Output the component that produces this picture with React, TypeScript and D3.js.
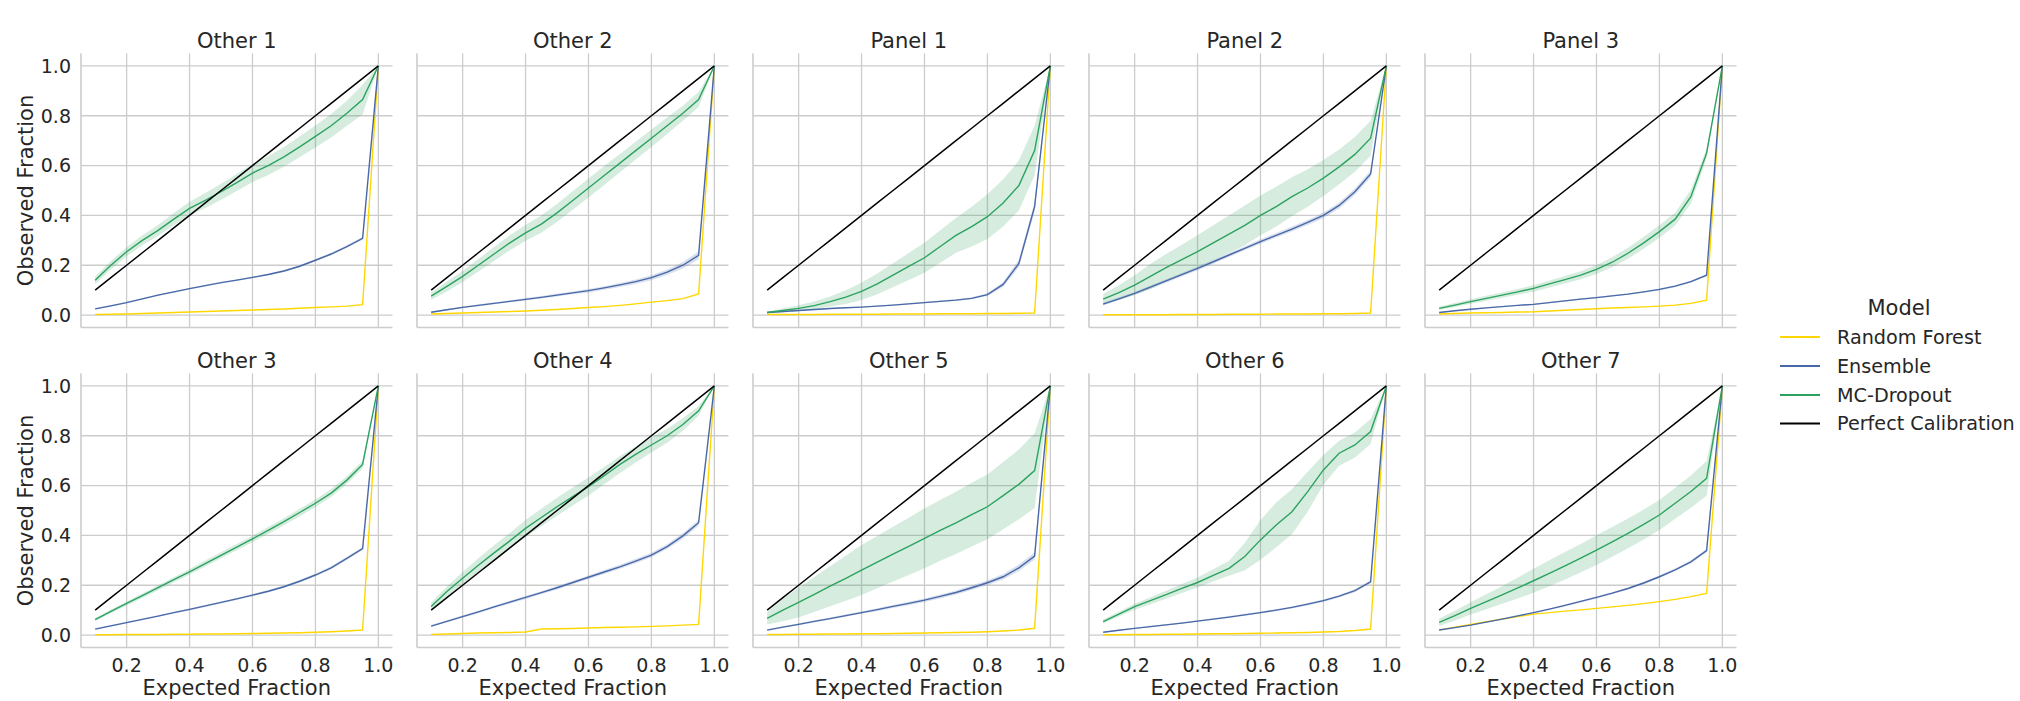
import React from "react";
import * as d3 from "d3";

const panelNames = ["Other 1", "Other 2", "Panel 1", "Panel 2", "Panel 3", "Other 3", "Other 4", "Other 5", "Other 6", "Other 7"];
const expected = [0.1, 0.15, 0.2, 0.25, 0.3, 0.35, 0.4, 0.45, 0.5, 0.55, 0.6, 0.65, 0.7, 0.75, 0.8, 0.85, 0.9, 0.95, 1.0];
const xTicks = [0.2, 0.4, 0.6, 0.8, 1.0];
const yTicks = [0.0, 0.2, 0.4, 0.6, 0.8, 1.0];
const modelNames = ["Random Forest", "Ensemble", "MC-Dropout", "Perfect Calibration"];
const modelColors = ["#FFD700", "#4868A8", "#2CA25F", "#000000"];

const rfObserved = [
  [0.002, 0.003, 0.004, 0.006, 0.008, 0.010, 0.012, 0.014, 0.016, 0.018, 0.020, 0.022, 0.024, 0.027, 0.030, 0.033, 0.036, 0.042, 1.0],
  [0.004, 0.006, 0.008, 0.010, 0.012, 0.014, 0.016, 0.019, 0.022, 0.026, 0.030, 0.034, 0.039, 0.045, 0.052, 0.058, 0.066, 0.085, 1.0],
  [0.002, 0.002, 0.002, 0.002, 0.003, 0.003, 0.003, 0.003, 0.004, 0.004, 0.004, 0.005, 0.005, 0.005, 0.006, 0.006, 0.007, 0.008, 1.0],
  [0.001, 0.001, 0.001, 0.001, 0.001, 0.002, 0.002, 0.002, 0.003, 0.003, 0.003, 0.004, 0.004, 0.004, 0.005, 0.005, 0.006, 0.008, 1.0],
  [0.004, 0.006, 0.008, 0.009, 0.010, 0.012, 0.013, 0.016, 0.019, 0.022, 0.025, 0.028, 0.030, 0.033, 0.036, 0.040, 0.047, 0.060, 1.0],
  [0.001, 0.001, 0.002, 0.002, 0.002, 0.003, 0.003, 0.004, 0.004, 0.005, 0.006, 0.007, 0.008, 0.009, 0.011, 0.013, 0.016, 0.020, 1.0],
  [0.002, 0.004, 0.006, 0.008, 0.009, 0.010, 0.012, 0.024, 0.025, 0.026, 0.028, 0.030, 0.031, 0.033, 0.035, 0.037, 0.040, 0.043, 1.0],
  [0.002, 0.002, 0.003, 0.003, 0.004, 0.004, 0.005, 0.005, 0.006, 0.007, 0.008, 0.009, 0.010, 0.011, 0.013, 0.016, 0.020, 0.027, 1.0],
  [0.001, 0.001, 0.002, 0.002, 0.003, 0.003, 0.004, 0.005, 0.005, 0.006, 0.007, 0.008, 0.009, 0.010, 0.012, 0.014, 0.018, 0.024, 1.0],
  [0.020, 0.032, 0.043, 0.054, 0.064, 0.074, 0.084, 0.090, 0.096, 0.101, 0.107, 0.113, 0.119, 0.126, 0.134, 0.143, 0.154, 0.167, 1.0],
];

const ensObserved = [
  [0.025, 0.037, 0.050, 0.065, 0.080, 0.093, 0.106, 0.118, 0.130, 0.140, 0.151, 0.163, 0.177, 0.196, 0.220, 0.245, 0.275, 0.308, 1.0],
  [0.011, 0.021, 0.031, 0.039, 0.047, 0.055, 0.063, 0.071, 0.080, 0.089, 0.098, 0.109, 0.121, 0.134, 0.150, 0.172, 0.200, 0.240, 1.0],
  [0.010, 0.014, 0.018, 0.022, 0.026, 0.029, 0.032, 0.036, 0.040, 0.045, 0.050, 0.055, 0.060, 0.067, 0.082, 0.123, 0.207, 0.435, 1.0],
  [0.044, 0.065, 0.087, 0.112, 0.137, 0.162, 0.187, 0.214, 0.241, 0.268, 0.295, 0.320, 0.345, 0.372, 0.400, 0.440, 0.495, 0.566, 1.0],
  [0.010, 0.017, 0.023, 0.029, 0.034, 0.039, 0.043, 0.050, 0.057, 0.064, 0.070, 0.077, 0.084, 0.093, 0.103, 0.116, 0.134, 0.160, 1.0],
  [0.024, 0.037, 0.050, 0.063, 0.076, 0.090, 0.103, 0.117, 0.131, 0.145, 0.160, 0.176, 0.194, 0.216, 0.241, 0.270, 0.308, 0.347, 1.0],
  [0.036, 0.055, 0.074, 0.093, 0.113, 0.132, 0.151, 0.170, 0.190, 0.211, 0.232, 0.253, 0.274, 0.297, 0.321, 0.355, 0.398, 0.451, 1.0],
  [0.020, 0.032, 0.043, 0.055, 0.066, 0.078, 0.090, 0.102, 0.115, 0.127, 0.140, 0.155, 0.171, 0.190, 0.210, 0.234, 0.270, 0.317, 1.0],
  [0.011, 0.019, 0.027, 0.034, 0.041, 0.048, 0.056, 0.064, 0.072, 0.081, 0.090, 0.100, 0.111, 0.124, 0.138, 0.156, 0.178, 0.214, 1.0],
  [0.020, 0.030, 0.040, 0.052, 0.064, 0.077, 0.090, 0.104, 0.119, 0.135, 0.151, 0.168, 0.187, 0.209, 0.234, 0.262, 0.294, 0.339, 1.0],
];

const ensBand = [
  [0.003, 0.003, 0.003, 0.003, 0.003, 0.003, 0.003, 0.003, 0.003, 0.003, 0.003, 0.003, 0.004, 0.004, 0.004, 0.005, 0.005, 0.006, 0],
  [0.003, 0.003, 0.003, 0.004, 0.004, 0.004, 0.005, 0.005, 0.006, 0.006, 0.007, 0.007, 0.008, 0.009, 0.010, 0.011, 0.013, 0.016, 0],
  [0.002, 0.002, 0.002, 0.002, 0.002, 0.002, 0.002, 0.002, 0.002, 0.003, 0.003, 0.003, 0.003, 0.004, 0.006, 0.010, 0.015, 0.020, 0],
  [0.006, 0.006, 0.006, 0.007, 0.007, 0.007, 0.008, 0.008, 0.008, 0.008, 0.009, 0.009, 0.010, 0.010, 0.011, 0.012, 0.013, 0.014, 0],
  [0.002, 0.002, 0.002, 0.002, 0.002, 0.002, 0.003, 0.003, 0.003, 0.003, 0.003, 0.003, 0.003, 0.003, 0.004, 0.004, 0.004, 0.004, 0],
  [0.003, 0.003, 0.003, 0.003, 0.003, 0.004, 0.004, 0.004, 0.004, 0.004, 0.004, 0.005, 0.005, 0.005, 0.005, 0.006, 0.006, 0.006, 0],
  [0.004, 0.004, 0.005, 0.005, 0.005, 0.006, 0.006, 0.006, 0.007, 0.007, 0.007, 0.008, 0.008, 0.009, 0.009, 0.010, 0.011, 0.012, 0],
  [0.003, 0.003, 0.004, 0.004, 0.004, 0.005, 0.005, 0.006, 0.006, 0.007, 0.007, 0.008, 0.008, 0.009, 0.010, 0.011, 0.013, 0.015, 0],
  [0.002, 0.002, 0.002, 0.003, 0.003, 0.003, 0.003, 0.003, 0.004, 0.004, 0.004, 0.004, 0.004, 0.005, 0.005, 0.005, 0.006, 0.006, 0],
  [0.002, 0.002, 0.002, 0.003, 0.003, 0.003, 0.003, 0.003, 0.004, 0.004, 0.004, 0.004, 0.004, 0.005, 0.005, 0.005, 0.006, 0.006, 0],
];

const mcObserved = [
  [0.140, 0.200, 0.254, 0.300, 0.340, 0.385, 0.428, 0.460, 0.495, 0.532, 0.570, 0.600, 0.635, 0.675, 0.717, 0.760, 0.810, 0.865, 1.0],
  [0.076, 0.115, 0.155, 0.200, 0.245, 0.290, 0.330, 0.365, 0.410, 0.460, 0.510, 0.560, 0.610, 0.660, 0.710, 0.760, 0.810, 0.865, 1.0],
  [0.010, 0.018, 0.027, 0.038, 0.054, 0.072, 0.095, 0.125, 0.160, 0.195, 0.230, 0.275, 0.320, 0.355, 0.395, 0.450, 0.520, 0.660, 1.0],
  [0.064, 0.090, 0.120, 0.155, 0.190, 0.222, 0.255, 0.290, 0.325, 0.360, 0.400, 0.435, 0.475, 0.510, 0.550, 0.595, 0.645, 0.710, 1.0],
  [0.027, 0.040, 0.054, 0.067, 0.080, 0.093, 0.107, 0.125, 0.142, 0.160, 0.183, 0.212, 0.248, 0.290, 0.335, 0.385, 0.475, 0.650, 1.0],
  [0.062, 0.095, 0.127, 0.158, 0.190, 0.222, 0.254, 0.287, 0.320, 0.353, 0.386, 0.420, 0.455, 0.492, 0.529, 0.570, 0.622, 0.685, 1.0],
  [0.115, 0.175, 0.228, 0.280, 0.330, 0.378, 0.428, 0.472, 0.515, 0.556, 0.596, 0.640, 0.685, 0.725, 0.763, 0.800, 0.845, 0.900, 1.0],
  [0.067, 0.100, 0.131, 0.163, 0.196, 0.228, 0.261, 0.293, 0.325, 0.356, 0.388, 0.420, 0.450, 0.483, 0.515, 0.560, 0.605, 0.660, 1.0],
  [0.054, 0.084, 0.114, 0.138, 0.162, 0.187, 0.211, 0.240, 0.268, 0.315, 0.382, 0.442, 0.495, 0.576, 0.663, 0.730, 0.763, 0.817, 1.0],
  [0.051, 0.078, 0.107, 0.134, 0.161, 0.189, 0.218, 0.248, 0.278, 0.309, 0.341, 0.374, 0.408, 0.444, 0.482, 0.529, 0.576, 0.629, 1.0],
];

const mcBand = [
  [0.015, 0.017, 0.018, 0.020, 0.022, 0.025, 0.027, 0.030, 0.032, 0.034, 0.036, 0.038, 0.040, 0.042, 0.044, 0.047, 0.050, 0.060, 0],
  [0.015, 0.020, 0.022, 0.025, 0.028, 0.030, 0.032, 0.035, 0.036, 0.037, 0.038, 0.038, 0.037, 0.036, 0.035, 0.033, 0.030, 0.030, 0],
  [0.004, 0.008, 0.012, 0.016, 0.020, 0.028, 0.035, 0.042, 0.048, 0.054, 0.060, 0.065, 0.070, 0.080, 0.090, 0.095, 0.100, 0.100, 0],
  [0.020, 0.030, 0.040, 0.050, 0.055, 0.060, 0.065, 0.070, 0.075, 0.080, 0.080, 0.080, 0.078, 0.075, 0.072, 0.070, 0.070, 0.070, 0],
  [0.007, 0.008, 0.009, 0.010, 0.011, 0.012, 0.013, 0.014, 0.015, 0.016, 0.018, 0.020, 0.022, 0.024, 0.025, 0.026, 0.028, 0.020, 0],
  [0.006, 0.007, 0.008, 0.009, 0.010, 0.010, 0.011, 0.012, 0.012, 0.013, 0.013, 0.014, 0.014, 0.015, 0.015, 0.016, 0.016, 0.015, 0],
  [0.015, 0.020, 0.025, 0.028, 0.030, 0.032, 0.034, 0.035, 0.036, 0.036, 0.036, 0.035, 0.034, 0.032, 0.030, 0.028, 0.025, 0.020, 0],
  [0.025, 0.045, 0.060, 0.070, 0.080, 0.090, 0.100, 0.105, 0.110, 0.115, 0.120, 0.122, 0.125, 0.128, 0.130, 0.135, 0.140, 0.150, 0],
  [0.008, 0.010, 0.012, 0.014, 0.016, 0.018, 0.020, 0.024, 0.030, 0.055, 0.080, 0.090, 0.090, 0.080, 0.060, 0.050, 0.050, 0.050, 0],
  [0.015, 0.020, 0.025, 0.030, 0.035, 0.042, 0.048, 0.052, 0.055, 0.057, 0.060, 0.060, 0.060, 0.060, 0.060, 0.062, 0.065, 0.070, 0],
];

const W = 2020;
const H = 701;
const FONT = "DejaVu Sans, sans-serif";
const TEXT = "#262626";
const GRID = "#cccccc";

const panelLeft0 = 81;
const panelStep = 336;
const panelW = 311.5;
const rowTops = [53.5, 373.5];
const panelH = 274;

function Panel({ idx }: { idx: number }) {
  const col = idx % 5;
  const row = Math.floor(idx / 5);
  const left = panelLeft0 + col * panelStep;
  const top = rowTops[row];
  const x = d3.scaleLinear().domain([0.055, 1.045]).range([left, left + panelW]);
  const y = d3.scaleLinear().domain([-0.05, 1.05]).range([top + panelH, top]);
  const fmt = d3.format(".1f");

  const line = (vals: number[]) =>
    d3.line<number>().x((_, i) => x(expected[i])).y((v) => y(v))(vals) || "";
  const area = (vals: number[], band: number[]) =>
    d3
      .area<number>()
      .x((_, i) => x(expected[i]))
      .y0((v, i) => y(v - band[i]))
      .y1((v, i) => y(v + band[i]))(vals) || "";

  return (
    <g>
      {xTicks.map((t) => (
        <line key={"gx" + t} x1={x(t)} x2={x(t)} y1={top} y2={top + panelH} stroke={GRID} strokeWidth={1.3} />
      ))}
      {yTicks.map((t) => (
        <line key={"gy" + t} x1={left} x2={left + panelW} y1={y(t)} y2={y(t)} stroke={GRID} strokeWidth={1.3} />
      ))}
      <line x1={left} x2={left} y1={top} y2={top + panelH} stroke={GRID} strokeWidth={1.6} />
      <line x1={left} x2={left + panelW} y1={top + panelH} y2={top + panelH} stroke={GRID} strokeWidth={1.6} />

      <path d={area(ensObserved[idx], ensBand[idx])} fill={modelColors[1]} fillOpacity={0.2} stroke="none" />
      <path d={area(mcObserved[idx], mcBand[idx])} fill={modelColors[2]} fillOpacity={0.2} stroke="none" />
      <path d={line(rfObserved[idx])} fill="none" stroke={modelColors[0]} strokeWidth={1.4} />
      <path d={line(ensObserved[idx])} fill="none" stroke={modelColors[1]} strokeWidth={1.4} />
      <path d={line(mcObserved[idx])} fill="none" stroke={modelColors[2]} strokeWidth={1.4} />
      <path d={line(expected)} fill="none" stroke={modelColors[3]} strokeWidth={1.5} />

      <text x={(left + left + panelW) / 2} y={top - 5.5} textAnchor="middle" fontFamily={FONT} fontSize={21} fill={TEXT}>
        {panelNames[idx]}
      </text>

      {col === 0 &&
        yTicks.map((t) => (
          <text key={"ty" + t} x={left - 10} y={y(t)} dy="0.36em" textAnchor="end" fontFamily={FONT} fontSize={19} fill={TEXT}>
            {fmt(t)}
          </text>
        ))}
      {col === 0 && (
        <text
          transform={`translate(${left - 48},${top + panelH / 2}) rotate(-90)`}
          textAnchor="middle"
          fontFamily={FONT}
          fontSize={21}
          fill={TEXT}
        >
          Observed Fraction
        </text>
      )}
      {row === 1 &&
        xTicks.map((t) => (
          <text key={"tx" + t} x={x(t)} y={top + panelH + 24.5} textAnchor="middle" fontFamily={FONT} fontSize={19} fill={TEXT}>
            {fmt(t)}
          </text>
        ))}
      {row === 1 && (
        <text x={left + panelW / 2} y={top + panelH + 47} textAnchor="middle" fontFamily={FONT} fontSize={21} fill={TEXT}>
          Expected Fraction
        </text>
      )}
    </g>
  );
}

function Legend() {
  const lx = 1780;
  const rowY = [337, 366, 395, 423.5];
  return (
    <g>
      <text x={1899} y={315} textAnchor="middle" fontFamily={FONT} fontSize={21} fill={TEXT}>
        Model
      </text>
      {modelNames.map((m, i) => (
        <g key={m}>
          <line x1={lx} x2={lx + 40} y1={rowY[i]} y2={rowY[i]} stroke={modelColors[i]} strokeWidth={2} />
          <text x={1837} y={rowY[i]} dy="0.36em" fontFamily={FONT} fontSize={19.2} fill={TEXT}>
            {m}
          </text>
        </g>
      ))}
    </g>
  );
}

export default function App() {
  return (
    <svg width={W} height={H} style={{ position: "absolute", left: 0, top: 0, background: "#ffffff" }}>
      <rect x={0} y={0} width={W} height={H} fill="#ffffff" />
      {panelNames.map((_, i) => (
        <Panel key={i} idx={i} />
      ))}
      <Legend />
    </svg>
  );
}
